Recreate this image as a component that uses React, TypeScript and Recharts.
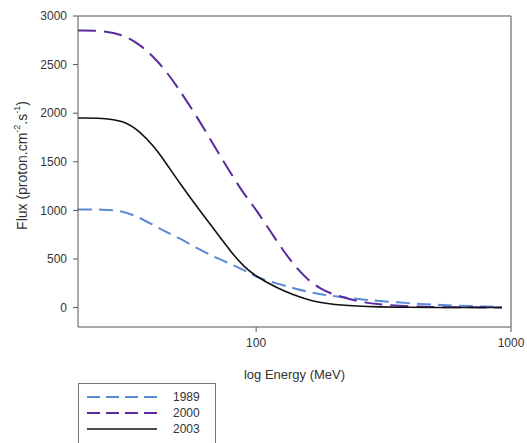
import React from 'react';
import { LineChart, Line, XAxis, YAxis, ReferenceLine } from 'recharts';

const energies = [20, 25, 30, 35, 40, 45, 50, 60, 70, 80, 90, 100, 120, 140, 160, 180, 200, 250, 300, 400, 500, 600, 700, 800, 920];
const flux1989 = [1010, 1010, 995, 925, 840, 770, 715, 595, 510, 445, 385, 310, 250, 200, 160, 135, 118, 88, 68, 44, 30, 21, 15, 10, 6];
const flux2000 = [2850, 2850, 2810, 2705, 2570, 2410, 2240, 1920, 1620, 1370, 1160, 1010, 690, 440, 280, 190, 135, 62, 32, 12, 5, 3, 2, 1, 1];
const flux2003 = [1950, 1950, 1925, 1815, 1650, 1460, 1285, 1000, 770, 565, 415, 320, 205, 130, 80, 50, 32, 14, 6, 2, 1, 0.5, 0.3, 0.2, 0.1];

const yTicks = [0, 500, 1000, 1500, 2000, 2500, 3000];
const xTicks = [100, 1000];

const series = [
  { key: 'y1989', name: '1989', color: '#5b8ad6', dash: '14 7', width: 2 },
  { key: 'y2000', name: '2000', color: '#5a2a9e', dash: '18 8', width: 2 },
  { key: 'y2003', name: '2003', color: '#111111', dash: undefined, width: 1.6 },
];

const data = energies.map((e, i) => ({
  energy: e,
  y1989: flux1989[i],
  y2000: flux2000[i],
  y2003: flux2003[i],
}));

const FONT = '"Liberation Sans", Arial, sans-serif';
const AXIS = '#555';
const TEXT = '#333';

const YLabel = ({ viewBox }: any) => {
  const cx = viewBox.x + 22;
  const cy = viewBox.y + viewBox.height / 2 - 6;
  return (
    <text
      x={cx}
      y={cy}
      transform={`rotate(-90 ${cx} ${cy})`}
      textAnchor="middle"
      dominantBaseline="central"
      fontFamily={FONT}
      fontSize={14}
      fill={TEXT}
    >
      Flux (proton.cm
      <tspan dy={-5} fontSize={9}>-2</tspan>
      <tspan dy={5}>.s</tspan>
      <tspan dy={-5} fontSize={9}>-1</tspan>
      <tspan dy={5}>)</tspan>
    </text>
  );
};

export default function App() {
  return (
    <div style={{ position: 'absolute', left: 0, top: 0, width: 527, height: 443, background: '#fff', overflow: 'hidden' }}>
      <LineChart width={527} height={443} data={data} margin={{ top: 16, right: 16, bottom: 60, left: 0 }}>
        <XAxis
          dataKey="energy"
          type="number"
          scale="log"
          domain={[20, 1000]}
          ticks={xTicks}
          allowDataOverflow
          height={56}
          stroke={AXIS}
          tickSize={5}
          tickMargin={6}
          tick={{ fontFamily: FONT, fontSize: 12, fill: TEXT }}
          label={{ value: 'log Energy (MeV)', position: 'insideBottom', offset: 4, style: { fontFamily: FONT, fontSize: 13, fill: TEXT } }}
        />
        <YAxis
          type="number"
          domain={[-200, 3000]}
          ticks={yTicks}
          allowDataOverflow
          width={78}
          stroke={AXIS}
          tickSize={5}
          tickMargin={6}
          tick={{ fontFamily: FONT, fontSize: 12, fill: TEXT }}
          label={<YLabel />}
        />
        <ReferenceLine y={3000} stroke="#888" strokeWidth={1.5} />
        <ReferenceLine x={1000} stroke="#888" strokeWidth={1.5} />
        {series.map(s => (
          <Line
            key={s.key}
            dataKey={s.key}
            name={s.name}
            type="basis"
            stroke={s.color}
            strokeWidth={s.width}
            strokeDasharray={s.dash}
            dot={false}
            isAnimationActive={false}
          />
        ))}
      </LineChart>
      <div style={{ position: 'absolute', left: 78, top: 383, width: 138, height: 70, border: '1px solid #777', boxSizing: 'border-box' }}>
        <svg width={136} height={68}>
          {series.map((s, i) => (
            <g key={s.key}>
              <line x1={8} x2={78} y1={13 + i * 16} y2={13 + i * 16} stroke={s.color} strokeWidth={s.width} strokeDasharray={s.dash ? '13 6' : undefined} />
              <text x={94} y={13 + i * 16} dominantBaseline="central" fontFamily={FONT} fontSize={12} fill={TEXT}>
                {s.name}
              </text>
            </g>
          ))}
        </svg>
      </div>
    </div>
  );
}
